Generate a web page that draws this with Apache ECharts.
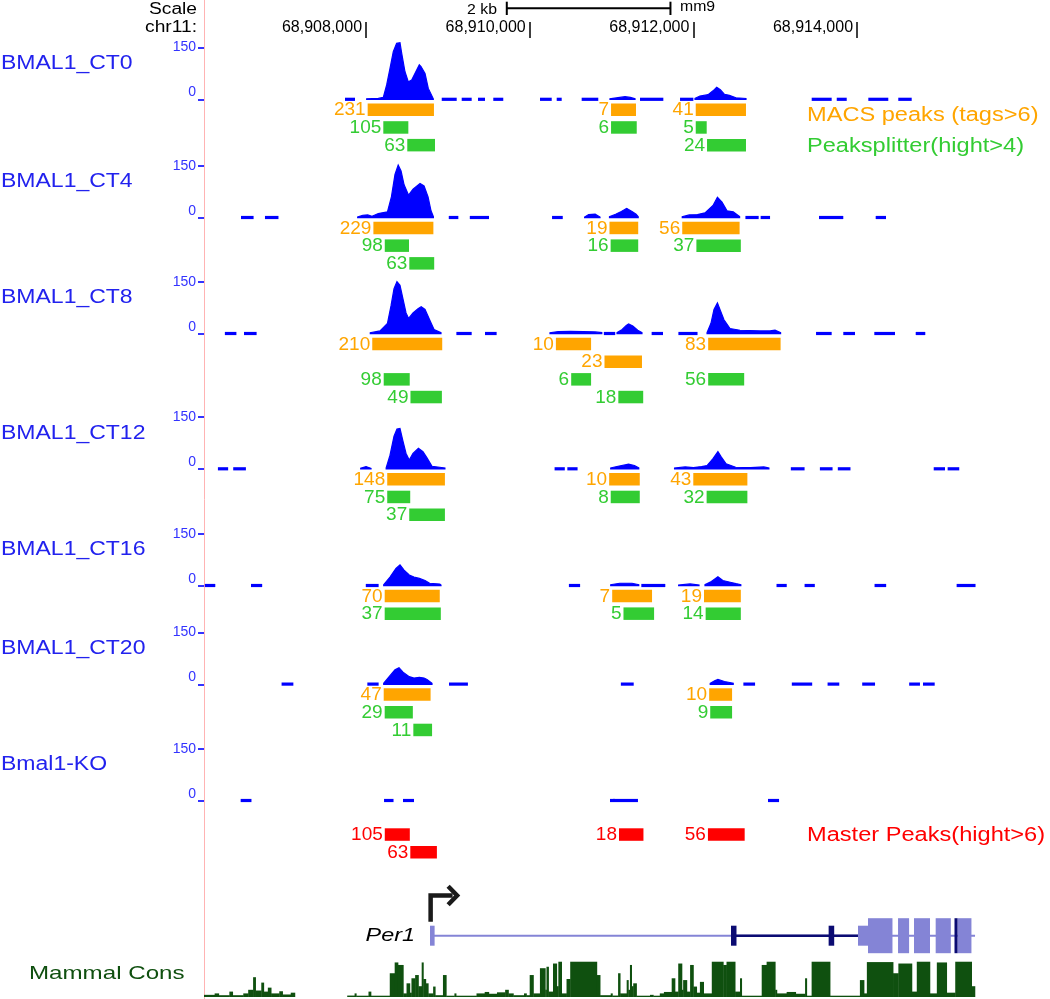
<!DOCTYPE html>
<html><head><meta charset="utf-8">
<script src="https://cdn.jsdelivr.net/npm/echarts@6/dist/echarts.min.js"></script>
<style>html,body{margin:0;padding:0;background:#fff}#c{width:1050px;height:999px}</style>
</head><body><div id="c"></div>
<script>
// ---------------- DATA ----------------
const TRACK_NAMES = ['BMAL1_CT0','BMAL1_CT4','BMAL1_CT8','BMAL1_CT12','BMAL1_CT16','BMAL1_CT20','Bmal1-KO'];
const AXIS_TICKS = [68908000, 68910000, 68912000, 68914000];
const SCALE_BAR = [68909720, 68911720];

// signal profiles: segments of [position, value]
const CT0_SIGNAL = [
 [[68908008,2],[68908150,3],[68908211,6],[68908252,42],[68908293,90],[68908333,138],[68908374,162],[68908415,164],[68908436,133],[68908476,80],[68908517,51],[68908558,56],[68908619,85],[68908651,100],[68908672,95],[68908721,75],[68908761,32],[68908822,2]],
 [[68910981,2],[68911100,6],[68911165,8],[68911230,6],[68911287,2]],
 [[68912020,3],[68912080,10],[68912180,14],[68912240,25],[68912285,35],[68912330,28],[68912380,15],[68912440,12],[68912520,5],[68912643,3]]
];
const CT0_DASHES = [[68907743,68907865],[68908925,68909108],[68909169,68909291],[68909368,68909454],[68909555,68909677],[68910126,68910269],[68910330,68910391],[68910635,68910838],[68911348,68911633],[68911837,68912000],[68913446,68913690],[68913752,68913874],[68914138,68914382],[68914504,68914668]];

const CT4_SIGNAL = [
 [[68907898,2],[68907960,7],[68908020,8],[68908073,4],[68908150,12],[68908262,17],[68908310,60],[68908354,125],[68908393,152],[68908428,135],[68908465,95],[68908520,65],[68908574,82],[68908660,99],[68908709,92],[68908758,60],[68908794,20],[68908823,3]],
 [[68910671,2],[68910720,9],[68910800,10],[68910859,2]],
 [[68910975,3],[68911050,10],[68911120,18],[68911185,27],[68911250,18],[68911300,10],[68911326,3]],
 [[68911864,3],[68911950,8],[68912050,9],[68912142,14],[68912240,35],[68912294,59],[68912350,45],[68912411,20],[68912487,17],[68912565,3]]
];
const CT4_DASHES = [[68906472,68906626],[68906765,68906930],[68909011,68909128],[68909268,68909503],[68910273,68910404],[68912636,68912798],[68912822,68912937],[68913535,68913832],[68914228,68914354]];

const CT8_SIGNAL = [
 [[68908052,3],[68908171,8],[68908262,30],[68908305,80],[68908342,130],[68908378,150],[68908415,140],[68908452,100],[68908489,60],[68908520,44],[68908574,60],[68908635,72],[68908674,78],[68908721,70],[68908777,40],[68908831,12],[68908916,3]],
 [[68910248,3],[68910350,6],[68910500,7],[68910650,6],[68910800,5],[68910881,3]],
 [[68911067,3],[68911130,12],[68911180,24],[68911208,28],[68911260,22],[68911320,10],[68911372,3]],
 [[68912167,3],[68912215,30],[68912252,70],[68912294,89],[68912325,70],[68912374,40],[68912448,15],[68912570,10],[68912815,8],[68912937,8],[68912998,10],[68913066,3]]
];
const CT8_DASHES = [[68906275,68906416],[68906509,68906663],[68909104,68909291],[68909454,68909596],[68910906,68911045],[68911490,68911629],[68911817,68912051],[68913499,68913690],[68913832,68913975],[68914211,68914464],[68914717,68914834]];

const CT12_SIGNAL = [
 [[68907935,2],[68908000,7],[68908061,2]],
 [[68908246,3],[68908293,40],[68908342,95],[68908378,115],[68908415,117],[68908452,80],[68908489,45],[68908528,26],[68908574,45],[68908640,60],[68908696,50],[68908745,32],[68908806,8],[68908964,3]],
 [[68910990,3],[68911080,8],[68911208,14],[68911280,10],[68911333,3]],
 [[68911770,3],[68911900,6],[68912000,4],[68912100,7],[68912167,10],[68912240,30],[68912300,50],[68912340,35],[68912400,15],[68912517,5],[68912700,4],[68912861,6],[68912923,3]]
];
const CT12_DASHES = [[68906190,68906315],[68906377,68906532],[68910304,68910429],[68910460,68910585],[68913191,68913359],[68913546,68913701],[68913765,68913920],[68914937,68915075],[68915107,68915249]];

const CT16_SIGNAL = [
 [[68908216,3],[68908293,25],[68908366,50],[68908415,60],[68908465,45],[68908528,31],[68908586,25],[68908652,21],[68908721,15],[68908777,7],[68908901,5],[68908916,2]],
 [[68910990,3],[68911100,7],[68911250,7],[68911333,3]],
 [[68911820,2],[68911960,5],[68912069,2]],
 [[68912142,3],[68912220,12],[68912300,26],[68912360,15],[68912450,10],[68912520,6],[68912580,3]]
];
const CT16_DASHES = [[68906030,68906158],[68906594,68906731],[68907997,68908154],[68910479,68910616],[68911364,68911657],[68913016,68913141],[68913359,68913484],[68914214,68914356],[68915217,68915448]];

const CT20_SIGNAL = [
 [[68908216,3],[68908293,25],[68908354,42],[68908403,48],[68908452,35],[68908528,22],[68908586,18],[68908652,20],[68908709,18],[68908745,14],[68908806,3]],
 [[68912206,3],[68912260,10],[68912300,14],[68912380,8],[68912487,3]]
];
const CT20_DASHES = [[68906968,68907112],[68908016,68908154],[68909014,68909245],[68911114,68911271],[68912611,68912754],[68913203,68913452],[68913640,68913783],[68914063,68914220],[68914637,68914769],[68914806,68914949]];

const KO_SIGNAL = [
 [[68910990,1],[68911030,4],[68911080,1]]
];
const KO_DASHES = [[68906468,68906600],[68908220,68908336],[68908452,68908586],[68910981,68911323],[68912912,68913047]];

// peaks: [start, end, lane, score, kind]
const CT0_PEAKS = [
 [68908020,68908830,0,231,'macs'],[68910994,68911299,0,7,'macs'],[68912029,68912643,0,41,'macs'],
 [68908211,68908517,1,105,'split'],[68910994,68911308,1,6,'split'],[68912029,68912163,1,5,'split'],
 [68908504,68908843,2,63,'split'],[68912167,68912643,2,24,'split']
];
const CT4_PEAKS = [
 [68908090,68908823,0,229,'macs'],[68910975,68911326,0,19,'macs'],[68911864,68912565,0,56,'macs'],
 [68908229,68908525,1,98,'split'],[68910989,68911326,1,16,'split'],[68912037,68912580,1,37,'split'],
 [68908529,68908833,2,63,'split']
];
const CT8_PEAKS = [
 [68908076,68908931,0,210,'macs'],[68910320,68910750,0,10,'macs'],[68912181,68913066,0,83,'macs'],
 [68910914,68911372,1,23,'macs'],
 [68908216,68908534,2,98,'split'],[68910507,68910750,2,6,'split'],[68912181,68912621,2,56,'split'],
 [68908543,68908927,3,49,'split'],[68911083,68911387,3,18,'split']
];
const CT12_PEAKS = [
 [68908259,68908964,0,148,'macs'],[68910971,68911345,0,10,'macs'],[68911999,68912660,0,43,'macs'],
 [68908259,68908540,1,75,'split'],[68910990,68911345,1,8,'split'],[68912162,68912660,1,32,'split'],
 [68908528,68908964,2,37,'split']
];
const CT16_PEAKS = [
 [68908228,68908901,0,70,'macs'],[68911008,68911495,0,7,'macs'],[68912130,68912580,0,19,'macs'],
 [68908228,68908914,1,37,'split'],[68911146,68911520,1,5,'split'],[68912150,68912580,1,14,'split']
];
const CT20_PEAKS = [
 [68908216,68908789,0,47,'macs'],[68912193,68912473,0,10,'macs'],
 [68908228,68908572,1,29,'split'],[68912206,68912473,1,9,'split'],
 [68908578,68908807,2,11,'split']
];
const KO_PEAKS = [];
const MASTER_PEAKS = [
 [68908229,68908535,0,105],[68911091,68911390,0,18],[68912178,68912627,0,56],[68908541,68908866,1,63]
];
const LEGEND_TEXT = {macs:'MACS peaks (tags>6)', split:'Peaksplitter(hight>4)', master:'Master Peaks(hight>6)'};

// gene model (Per1)
const PER1_TX = [68908782, 68915442];
const PER1_THIN = [[68908782,68908838],[68914012,68914134]];
const PER1_THICK = [[68914134,68914433],[68914501,68914636],[68914696,68914892],[68914961,68915146],[68915228,68915398]];
const ALT_TX = [68912460, 68914012];
const ALT_EXONS = [[68912460,68912527],[68913653,68913721]];
const ALT_THICK = [[68915191,68915228]];

// mammal conservation: [start, end, score 0..1]
const CONS = [
 [68906020,68906150,0.06],[68906150,68906200,0.1],[68906200,68906330,0.05],[68906330,68906370,0.15],[68906370,68906500,0.05],
 [68906500,68906560,0.1],[68906560,68906620,0.2],[68906620,68906650,0.55],[68906650,68906720,0.18],[68906720,68906750,0.4],
 [68906750,68906800,0.15],[68906800,68906840,0.26],[68906840,68906940,0.1],[68906940,68906980,0.16],[68906980,68907080,0.07],[68907080,68907130,0.12],
 [68907770,68907860,0.04],[68907860,68907880,0.1],[68907880,68908030,0.03],[68908030,68908060,0.15],[68908060,68908290,0.03],
 [68908290,68908350,0.66],[68908350,68908390,0.96],[68908390,68908455,0.89],[68908455,68908495,0.1],[68908495,68908535,0.38],
 [68908535,68908555,0.12],[68908555,68908600,0.52],[68908600,68908640,0.61],[68908640,68908680,0.3],[68908680,68908700,0.96],
 [68908700,68908730,0.5],[68908730,68908760,0.38],[68908760,68908820,0.1],[68908820,68908845,0.29],[68908845,68908940,0.05],
 [68908940,68908980,0.61],[68908980,68909080,0.03],[68909080,68909100,0.1],[68909100,68909350,0.03],[68909350,68909450,0.1],
 [68909450,68909500,0.14],[68909500,68909600,0.09],[68909600,68909700,0.13],[68909700,68909740,0.2],[68909740,68909800,0.1],
 [68909800,68909930,0.05],[68909930,68909960,0.1],[68909960,68910000,0.05],[68910000,68910045,0.61],[68910045,68910125,0.1],
 [68910125,68910190,0.8],[68910190,68910205,0.2],[68910205,68910230,0.84],[68910230,68910285,0.15],[68910285,68910330,0.93],
 [68910330,68910350,0.3],[68910350,68910390,0.98],[68910390,68910450,0.1],[68910450,68910495,0.5],[68910495,68910820,0.98],
 [68910820,68910860,0.61],[68910860,68910990,0.05],[68910990,68911010,0.1],[68911010,68911080,0.04],[68911080,68911105,0.66],
 [68911105,68911185,0.1],[68911185,68911205,0.47],[68911205,68911225,0.2],[68911225,68911245,0.89],[68911245,68911265,0.3],
 [68911265,68911305,0.38],[68911305,68911470,0.03],[68911470,68911510,0.06],[68911510,68911590,0.03],[68911590,68911640,0.1],
 [68911640,68911735,0.14],[68911735,68911775,0.52],[68911775,68911815,0.15],[68911815,68911860,0.93],[68911860,68911875,0.2],
 [68911875,68911920,0.47],[68911920,68911960,0.15],[68911960,68912000,0.89],[68912000,68912040,0.29],[68912040,68912080,0.12],
 [68912080,68912125,0.42],[68912125,68912225,0.1],[68912225,68912365,0.98],[68912365,68912405,0.89],[68912405,68912510,0.98],
 [68912510,68912570,0.15],[68912570,68912590,0.52],[68912590,68912835,0.03],[68912835,68912895,0.89],[68912895,68913000,0.98],
 [68913000,68913020,0.2],[68913020,68913140,0.1],[68913140,68913250,0.14],[68913250,68913365,0.09],[68913365,68913385,0.52],
 [68913385,68913445,0.03],[68913445,68913670,0.98],[68913670,68914035,0.02],[68914035,68914085,0.47],[68914085,68914120,0.1],
 [68914120,68914440,0.97],[68914440,68914505,0.66],[68914505,68914670,0.93],[68914670,68914730,0.15],[68914730,68914890,0.98],
 [68914890,68914975,0.1],[68914975,68915095,0.96],[68915095,68915200,0.12],[68915200,68915400,0.98],[68915400,68915440,0.3]
];

// ---------------- LAYOUT ----------------
const XMIN = 68906020, XMAX = 68916358;
const GL = 204;
const BASES = [99.5, 217.7, 333.7, 469, 585.7, 684.3, 800.7];
const SIG_H = 52, ROW_OFF = 4, ROW_H = 17.7, BAR_H = 12.5, MASTER_TOP = 828.3;
const FONT = '"Liberation Sans", Arial, Helvetica, sans-serif';
const COLORS = {macs:'#ffa500', split:'#33cc33', master:'#ff0000'};
const BLUE = '#0000ff', AXBLUE = '#3333ff', NAMEBLUE = '#2222ee';

const SIGNALS = [CT0_SIGNAL, CT4_SIGNAL, CT8_SIGNAL, CT12_SIGNAL, CT16_SIGNAL, CT20_SIGNAL, KO_SIGNAL];
const DASHES = [CT0_DASHES, CT4_DASHES, CT8_DASHES, CT12_DASHES, CT16_DASHES, CT20_DASHES, KO_DASHES];
const PEAK_SETS = [CT0_PEAKS, CT4_PEAKS, CT8_PEAKS, CT12_PEAKS, CT16_PEAKS, CT20_PEAKS, KO_PEAKS];

const PEAK_ITEMS = [];
PEAK_SETS.forEach((set, t) => set.forEach(p => PEAK_ITEMS.push({start:p[0], end:p[1], row:p[2], score:p[3], kind:p[4], track:t})));
MASTER_PEAKS.forEach(p => PEAK_ITEMS.push({start:p[0], end:p[1], row:p[2], score:p[3], kind:'master', track:-1}));

const grids = [], xAxes = [], yAxes = [], series = [];
function addGrid(g, y, x) {
  grids.push(Object.assign({containLabel:false}, g));
  const i = grids.length - 1;
  xAxes.push(Object.assign({type:'value', gridIndex:i, min:XMIN, max:XMAX, show:false}, x || {}));
  yAxes.push(Object.assign({gridIndex:i}, y));
  return i;
}
function txt(text, x, y, size, color, align, scaleX, extra) {
  return Object.assign({type:'text', x:x, y:y, scaleX:scaleX || 1, silent:true, z:10,
    style:{text:text, font:size + 'px ' + FONT, fill:color, textAlign:align, align:align,
      textVerticalAlign:'middle', verticalAlign:'middle'}}, extra || {});
}

// overlay grid (pixel rows for peak lanes and scale bar)
const G_OV = addGrid({left:GL, right:0, top:0, height:999}, {type:'value', min:0, max:999, inverse:true, show:false});

// header ruler
addGrid({left:GL, right:0, top:22, height:16}, {type:'value', min:0, max:1, show:false}, {
  show:true, position:'bottom',
  axisLine:{show:false}, splitLine:{show:false},
  axisTick:{show:true, inside:true, length:16, customValues:AXIS_TICKS, lineStyle:{color:'#000', width:1.5}},
  axisLabel:{show:true, inside:true, customValues:AXIS_TICKS, margin:10.5, align:'right', verticalAlign:'middle',
    padding:[0,4,0,0], fontSize:16, fontFamily:FONT, color:'#000', formatter:v => Number(v).toLocaleString('en-US')}
});

// signal tracks
BASES.forEach((b, t) => {
  const g = addGrid({left:GL, right:0, top:b - SIG_H, height:SIG_H}, {
    type:'value', min:0, max:150, interval:150,
    axisLine:{show:false}, splitLine:{show:false},
    axisTick:{show:true, length:6, lineStyle:{color:AXBLUE, width:2}},
    axisLabel:{margin:8, color:AXBLUE, fontSize:14, fontFamily:FONT,
      formatter:v => v === 0 ? '{z|0}' : '{t|' + v + '}',
      rich:{z:{padding:[0,0,14,0], fontSize:14, fontFamily:FONT, color:AXBLUE}, t:{fontSize:14, fontFamily:FONT, color:AXBLUE}}}
  });
  const segs = SIGNALS[t];
  series.push({
    type:'custom', coordinateSystem:'cartesian2d', xAxisIndex:g, yAxisIndex:g, clip:false, silent:true,
    encode:{x:[0,2], y:1},
    data:segs.map(s => [s[0][0], 0, s[s.length-1][0]]),
    renderItem:function(params, api) {
      const seg = segs[params.dataIndex];
      const pts = seg.map(p => api.coord([p[0], p[1]]));
      const y0 = api.coord([seg[0][0], 0])[1];
      pts.unshift([pts[0][0], y0]);
      pts.push([pts[pts.length-1][0], y0]);
      return {type:'polygon', shape:{points:pts}, style:{fill:BLUE, stroke:BLUE, lineWidth:1.2}};
    }
  });
  const ds = DASHES[t];
  series.push({
    type:'custom', coordinateSystem:'cartesian2d', xAxisIndex:g, yAxisIndex:g, clip:false, silent:true,
    encode:{x:[0,2], y:1},
    data:ds.map(d => [d[0], 0, d[1]]),
    renderItem:function(params, api) {
      const d = ds[params.dataIndex];
      const a = api.coord([d[0], 0]), b = api.coord([d[1], 0]);
      return {type:'rect', shape:{x:a[0], y:a[1]-1.8, width:b[0]-a[0], height:3.2}, style:{fill:BLUE}};
    }
  });
});

// peaks (MACS, Peaksplitter, Master)
series.push({
  type:'custom', coordinateSystem:'cartesian2d', xAxisIndex:G_OV, yAxisIndex:G_OV, clip:false, silent:true,
  encode:{x:[0,2], y:1},
  data:PEAK_ITEMS.map(p => [p.start, 0, p.end]),
  renderItem:function(params, api) {
    const p = PEAK_ITEMS[params.dataIndex];
    const top = p.track < 0 ? MASTER_TOP + p.row * ROW_H : BASES[p.track] + ROW_OFF + p.row * ROW_H;
    const a = api.coord([p.start, top]);
    const b = api.coord([p.end, top + BAR_H]);
    const col = COLORS[p.kind];
    return {type:'group', children:[
      {type:'rect', shape:{x:a[0], y:a[1], width:b[0]-a[0], height:b[1]-a[1]}, style:{fill:col}},
      {type:'text', x:a[0]-2, y:(a[1]+b[1])/2 + 0.5,
        style:{text:String(p.score), font:'19px ' + FONT, fill:col, textAlign:'right', align:'right', textVerticalAlign:'middle', verticalAlign:'middle'}}
    ]};
  }
});

// scale bar
series.push({
  type:'custom', coordinateSystem:'cartesian2d', xAxisIndex:G_OV, yAxisIndex:G_OV, clip:false, silent:true,
  encode:{x:[0,2], y:1},
  data:[[SCALE_BAR[0], 8.3, SCALE_BAR[1]]],
  renderItem:function(params, api) {
    const a = api.coord([SCALE_BAR[0], 8.3]), b = api.coord([SCALE_BAR[1], 8.3]);
    const st = {stroke:'#000', lineWidth:2};
    return {type:'group', children:[
      {type:'line', shape:{x1:a[0], y1:a[1], x2:b[0], y2:b[1]}, style:st},
      {type:'line', shape:{x1:a[0], y1:a[1]-6.6, x2:a[0], y2:a[1]+6.7}, style:st},
      {type:'line', shape:{x1:b[0], y1:b[1]-6.6, x2:b[0], y2:b[1]+6.7}, style:st}
    ]};
  }
});

// gene model
const G_GENE = addGrid({left:GL, right:0, top:914.7, height:42}, {type:'value', min:0, max:1, show:false});
series.push({
  type:'custom', coordinateSystem:'cartesian2d', xAxisIndex:G_GENE, yAxisIndex:G_GENE, clip:false, silent:true,
  encode:{x:[0,2], y:1},
  data:[[PER1_TX[0], 0.5, PER1_TX[1]]],
  renderItem:function(params, api) {
    const yc = api.coord([XMIN, 0.5])[1];
    const X = v => api.coord([v, 0.5])[0];
    const LIGHT = '#8484d6', NAVY = '#0b0b72';
    const ch = [];
    const rect = (e, h, col) => ({type:'rect', shape:{x:X(e[0]), y:yc - h/2, width:Math.max(X(e[1]) - X(e[0]), 1.5), height:h}, style:{fill:col}});
    ch.push({type:'line', shape:{x1:X(PER1_TX[0]), y1:yc, x2:X(PER1_TX[1]), y2:yc}, style:{stroke:LIGHT, lineWidth:2}});
    ch.push({type:'line', shape:{x1:X(ALT_TX[0]), y1:yc, x2:X(ALT_TX[1]), y2:yc}, style:{stroke:NAVY, lineWidth:2.6}});
    PER1_THIN.forEach(e => ch.push(rect(e, 20, LIGHT)));
    PER1_THICK.forEach(e => ch.push(rect(e, 35, LIGHT)));
    ALT_EXONS.forEach(e => ch.push(rect(e, 20, NAVY)));
    ALT_THICK.forEach(e => ch.push(rect(e, 35, NAVY)));
    const tx = X(PER1_TX[0]) + 0.6;
    const ast = {stroke:'#1a1a1a', lineWidth:4.5, fill:null, lineJoin:'miter', lineCap:'butt'};
    ch.push({type:'polyline', shape:{points:[[tx, yc-14],[tx, yc-40.2],[tx+22, yc-40.2]]}, style:ast});
    ch.push({type:'polyline', shape:{points:[[tx+17.5, yc-49.5],[tx+26.5, yc-40.2],[tx+17.5, yc-30.9]]}, style:ast});
    ch.push({type:'text', x:X(PER1_TX[0]) - 15, y:yc + 0.5, scaleX:1.3,
      style:{text:'Per1', font:'italic 18px ' + FONT, fill:'#000', textAlign:'right', align:'right', textVerticalAlign:'middle', verticalAlign:'middle'}});
    return {type:'group', children:ch};
  }
});

// conservation
const G_CONS = addGrid({left:GL, right:0, top:961, height:36}, {type:'value', min:0, max:1, show:false});
series.push({
  type:'custom', coordinateSystem:'cartesian2d', xAxisIndex:G_CONS, yAxisIndex:G_CONS, clip:false, silent:true,
  encode:{x:[0,2], y:1},
  data:CONS.map(c => [c[0], c[2], c[1]]),
  renderItem:function(params, api) {
    const c = CONS[params.dataIndex];
    const a = api.coord([c[0], c[2]]), b = api.coord([c[1], 0]);
    let h = b[1] - a[1];
    let y = a[1];
    if (h < 1.3) { h = 1.3; y = b[1] - 1.3; }
    return {type:'rect', shape:{x:a[0], y:y, width:b[0]-a[0]+0.4, height:h}, style:{fill:'#0f500f'}};
  }
});

// ---------------- TEXT / DECORATION ----------------
const graphics = [
  {type:'line', shape:{x1:204.5, y1:0, x2:204.5, y2:999}, style:{stroke:'#ffb3b3', lineWidth:1}, z:0, silent:true},
  txt('Scale', 197, 10, 16, '#000', 'right', 1.2),
  txt('chr11:', 197, 27.5, 16, '#000', 'right', 1.2),
  txt('2 kb', 497, 10, 14, '#000', 'right', 1.13),
  txt('mm9', 680, 6.7, 14, '#000', 'left', 1.13),
  txt(LEGEND_TEXT.macs, 807, 115, 20, COLORS.macs, 'left', 1.18),
  txt(LEGEND_TEXT.split, 807, 146, 20, COLORS.split, 'left', 1.18),
  txt(LEGEND_TEXT.master, 807, 835, 20, COLORS.master, 'left', 1.18),
  txt('Mammal Cons', 29, 974, 19, '#0f4f0f', 'left', 1.27)
];
TRACK_NAMES.forEach((n, t) => graphics.push(txt(n, 1, BASES[t] - SIG_H + 16, 20, NAMEBLUE, 'left', 1.15)));

const chart = echarts.init(document.getElementById('c'), null, {renderer:'canvas', width:1050, height:999});
chart.setOption({
  animation:false,
  backgroundColor:'#ffffff',
  grid:grids, xAxis:xAxes, yAxis:yAxes, series:series,
  graphic:graphics
});
</script>
</body></html>
